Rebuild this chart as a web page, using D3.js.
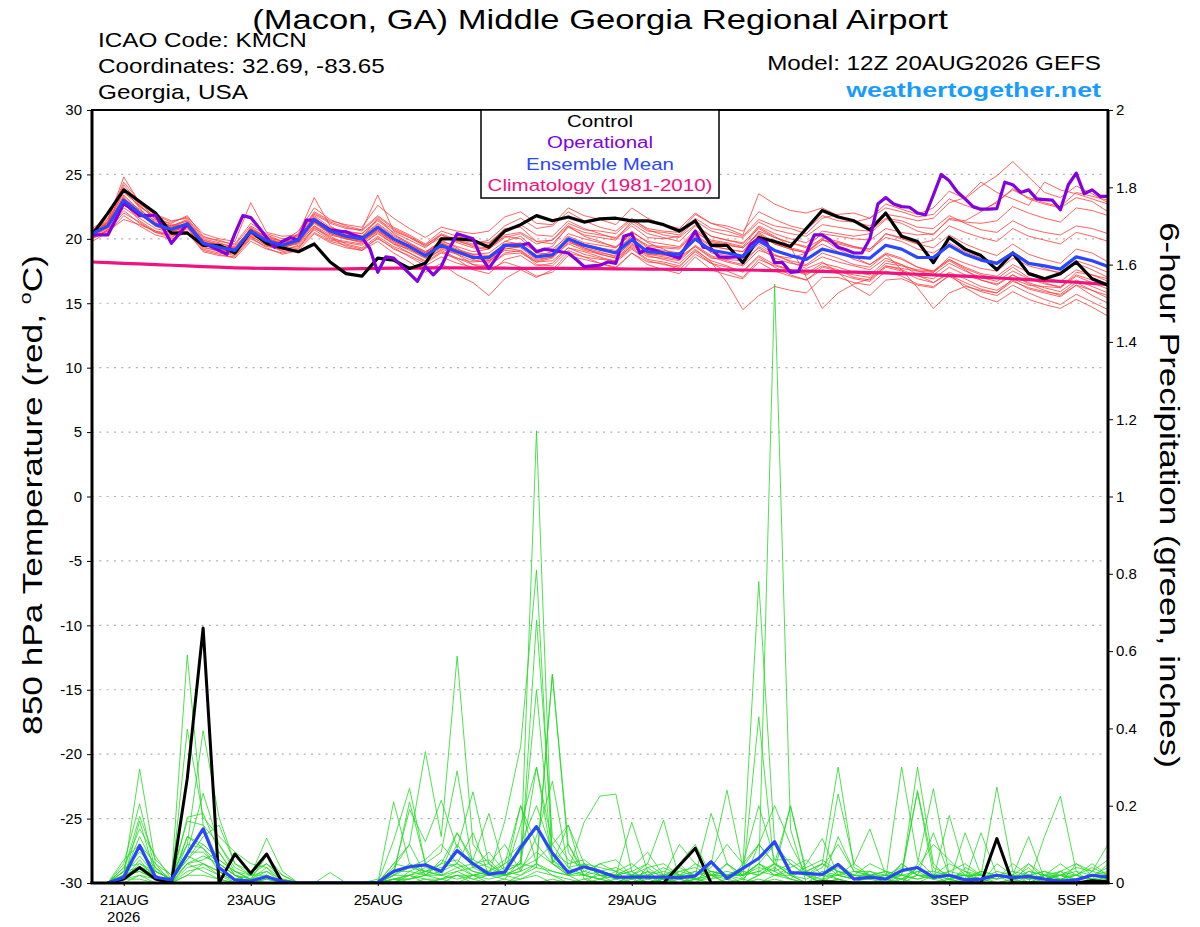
<!DOCTYPE html>
<html><head><meta charset="utf-8">
<script src="https://cdn.jsdelivr.net/npm/d3@7"></script>
<style>
body{margin:0;background:#fff}
svg{display:block}
text{font-family:"Liberation Sans",Arial,Helvetica,sans-serif}
</style>
</head><body>
<svg id="c" width="1200" height="927"></svg>
<script>
// ---------------- DATA ----------------
const runStartUTC = [2026, 7, 20, 12];      // 12Z 20AUG2026
const forecastHours = 384;                  // 16 days

// 6-hourly 850 hPa temperature (°C), index 0 = 20AUG 12Z
const controlTemp = [20.3,22.0,23.8,22.9,22.0,20.45,20.45,19.5,19.5,18.9,20.6,19.65,19.3,19.0,19.6,18.2,17.3,17.1,18.5,18.35,17.7,18.1,20.0,20.0,19.9,19.35,20.6,21.1,21.8,21.4,21.7,21.3,21.55,21.6,21.4,21.4,21.1,20.6,21.4,19.5,19.5,18.15,20.1,19.8,19.4,20.8,22.2,21.7,21.4,20.7,22.0,20.2,19.8,18.15,20.1,19.2,18.7,17.6,18.9,17.3,16.9,17.3,18.2,16.9,16.4];

const meanTemp = [20.4,21.0,23.0,22.0,21.1,20.75,21.15,19.65,19.35,19.1,20.6,19.85,19.5,19.9,21.5,20.6,20.2,20.0,20.9,20.0,19.4,18.7,19.5,19.0,18.55,18.55,19.5,19.5,18.6,18.75,20.0,19.5,19.2,18.9,19.95,19.0,18.9,18.8,20.0,19.1,18.9,18.65,19.85,19.1,18.7,18.4,19.2,18.9,18.6,18.5,19.5,19.2,18.55,18.55,19.5,18.8,18.35,18.1,18.9,18.1,17.9,17.65,18.6,18.3,17.85];

const climoTemp = [18.2,18.15,18.1,18.05,18.0,17.95,17.9,17.85,17.8,17.75,17.72,17.7,17.68,17.67,17.66,17.66,17.67,17.68,17.7,17.72,17.73,17.74,17.74,17.74,17.73,17.72,17.72,17.71,17.7,17.7,17.7,17.69,17.68,17.67,17.66,17.65,17.64,17.63,17.62,17.61,17.6,17.58,17.56,17.54,17.52,17.5,17.47,17.44,17.41,17.38,17.35,17.3,17.25,17.2,17.15,17.1,17.03,16.96,16.9,16.83,16.76,16.7,16.63,16.55,16.47];

// 3-hourly operational run, index 0 = 20AUG 12Z
const operationalTemp = [20.3,20.3,20.3,21.5,22.75,22.3,21.8,21.8,21.85,20.8,
19.65,20.4,21.15,20.4,19.65,19.4,19.1,18.8,20.4,21.8,
21.65,20.9,20.1,19.35,19.8,20.1,19.9,21.45,21.45,21.1,
20.7,20.6,20.55,20.3,20.1,19.25,17.4,18.6,18.5,17.9,
17.3,16.7,17.85,17.2,17.85,19.2,20.4,20.2,20.0,18.6,
17.7,18.6,19.5,19.5,19.5,19.65,19.0,19.2,19.1,19.0,
18.9,18.4,17.85,17.9,17.95,18.2,18.1,20.2,20.4,18.9,
19.25,19.1,18.9,18.7,18.5,19.6,20.6,19.35,19.25,18.6,
18.55,18.6,18.6,19.6,20.0,19.7,18.15,18.15,17.4,17.45,
18.9,20.3,20.3,19.9,19.35,19.15,18.9,18.9,20.0,22.7,
23.2,22.7,22.5,22.45,22.0,21.85,23.4,25.0,24.5,23.65,
23.1,22.5,22.3,22.3,22.35,24.4,24.2,23.6,23.8,23.1,
23.05,23.0,22.25,24.2,25.1,23.5,23.8,23.3,23.3];

const memberTemp01 = [20.6,21.4,24.8,22.8,21.6,20.9,21.4,19.8,19.2,19.0,20.9,20.1,19.6,20.4,23.2,21.0,20.3,20.1,21.6,20.4,19.6,18.9,19.9,19.3,18.4,18.1,19.8,20.2,19.1,19.4,21.0,20.2,19.8,19.3,20.6,19.7,19.2,18.6,19.4,18.6,18.2,17.9,19.1,18.7,18.5,18.9,20.1,19.8,19.4,19.0,20.4,20.1,19.6,19.3,20.3,19.6,19.1,18.7,19.6,18.8,18.4,18.1,19.2,18.9,18.2];
const memberTemp02 = [20.2,20.8,22.4,21.6,20.8,20.5,21.0,19.4,19.0,18.8,20.2,19.5,19.1,19.5,20.8,20.2,19.6,19.3,20.2,19.4,18.9,18.2,19.0,18.4,17.6,17.3,18.4,18.7,17.9,18.1,19.3,19.0,18.6,18.2,19.2,18.3,18.0,17.8,19.1,18.3,17.9,17.4,18.6,17.8,17.2,16.8,17.6,17.3,16.9,16.7,17.8,17.5,16.9,16.6,17.4,16.9,16.3,16.0,16.8,16.1,15.8,15.5,16.4,16.0,15.4];
const memberTemp03 = [20.5,21.2,23.6,22.6,21.5,21.2,21.8,20.2,19.8,19.6,21.2,20.4,20.0,20.2,21.9,21.2,20.8,20.7,21.8,20.9,20.3,19.6,20.6,20.2,19.8,19.7,20.7,21.1,20.3,20.2,21.4,20.8,20.4,20.0,21.0,20.1,20.0,20.2,21.4,20.6,20.3,20.1,21.3,20.7,20.4,20.2,21.1,20.9,20.7,20.6,21.6,21.4,20.9,20.8,21.8,21.2,20.7,20.5,21.4,20.8,20.5,20.3,21.0,20.8,20.4];
const memberTemp04 = [20.0,20.6,22.8,21.4,20.6,20.2,20.6,19.1,18.8,18.5,19.8,19.2,18.9,19.2,20.9,20.0,19.8,19.6,20.4,19.6,18.9,18.3,19.2,18.8,18.0,17.6,18.2,17.8,17.1,17.4,18.7,18.4,18.1,17.8,18.9,18.2,18.1,17.6,18.8,18.1,17.5,17.0,18.4,17.9,17.6,17.2,17.9,17.6,17.0,16.8,17.9,17.6,17.1,16.9,17.8,17.2,16.8,16.5,17.2,16.6,16.2,15.9,16.8,16.3,15.8];
const memberTemp05 = [20.8,21.6,24.2,22.7,21.9,21.4,21.6,20.1,19.9,19.5,21.0,20.3,19.8,20.6,22.4,21.5,21.0,20.7,23.4,20.6,20.1,19.4,20.1,19.8,19.5,19.6,20.8,20.9,19.8,19.6,20.9,20.3,20.1,19.9,21.4,20.6,20.5,20.3,21.6,20.8,20.6,20.2,21.5,21.0,20.8,20.4,21.6,21.9,22.0,21.6,22.4,22.1,21.7,21.9,23.1,22.6,22.2,22.8,23.9,23.1,22.7,22.4,23.2,22.9,22.1];
const memberTemp06 = [20.3,21.1,23.3,22.1,21.2,20.7,21.3,19.7,19.5,19.3,20.5,19.7,19.4,19.8,21.3,20.5,20.3,20.2,21.1,20.2,19.6,19.0,19.8,19.4,19.0,19.2,20.1,20.4,19.6,19.9,21.2,20.7,20.6,20.4,21.5,20.8,20.6,20.5,21.9,21.2,21.0,20.6,22.1,21.5,21.0,20.7,21.8,21.4,21.3,21.6,22.7,22.3,21.9,22.4,23.7,23.1,24.1,24.9,26.0,24.8,23.6,23.2,24.1,23.5,22.8];
const memberTemp07 = [20.1,20.7,22.0,21.3,20.5,20.1,20.8,19.5,19.3,19.2,20.6,19.9,19.4,19.6,21.0,20.1,19.4,19.1,19.8,18.9,18.2,17.4,18.1,17.2,16.6,15.6,16.9,17.6,17.0,17.6,18.9,18.6,18.4,18.3,19.5,18.8,18.6,18.4,19.5,18.7,18.3,18.0,19.4,18.7,18.3,18.0,18.9,18.5,18.0,17.8,18.8,18.4,17.8,17.5,18.4,17.7,17.2,16.9,17.8,17.0,16.6,16.2,17.1,16.6,16.1];
const memberTemp08 = [20.7,21.3,23.9,22.4,21.0,20.8,21.1,19.9,19.6,19.4,20.7,20.0,19.7,20.0,21.8,20.9,20.5,20.4,21.4,20.5,19.9,19.3,20.3,19.9,19.4,19.3,20.2,20.0,18.9,18.8,19.9,19.3,18.8,18.5,19.6,18.7,18.4,18.1,19.2,18.2,16.6,14.5,15.6,16.3,16.0,15.8,17.0,17.0,16.6,16.4,17.5,17.1,16.5,16.3,17.1,16.4,15.9,15.6,16.4,15.8,15.3,14.9,15.7,15.1,14.5];
const memberTemp09 = [20.4,21.1,23.1,22.3,21.3,20.6,20.9,19.6,19.4,19.0,20.3,19.7,19.3,19.7,21.2,20.4,20.1,19.9,20.7,19.9,19.4,18.8,19.7,19.1,18.8,18.9,19.8,19.6,18.7,18.6,19.8,19.2,18.9,18.7,19.7,18.8,18.8,18.9,20.3,19.5,19.2,19.0,20.6,20.1,19.7,19.3,20.0,19.2,18.6,18.0,18.9,18.5,17.8,17.4,18.3,17.6,16.8,16.4,17.2,16.5,16.0,15.6,16.4,15.6,15.0];
const memberTemp10 = [19.8,20.5,21.8,21.0,20.3,20.0,20.5,19.0,18.7,18.6,20.0,19.4,19.2,19.4,20.7,19.9,19.7,19.5,20.5,19.6,19.2,18.5,19.3,18.9,18.5,18.4,19.4,19.3,18.4,18.6,19.9,19.3,19.0,18.6,19.8,18.9,18.7,18.6,19.9,18.9,18.7,18.5,19.6,18.8,18.2,17.7,18.2,17.4,16.3,15.6,16.8,16.9,16.4,16.2,17.2,16.6,16.1,15.8,16.7,16.2,15.9,15.7,16.6,16.0,15.6];
const memberTemp11 = [20.6,21.5,24.4,22.9,21.8,21.3,21.7,20.4,20.0,19.8,22.8,20.5,20.2,20.3,22.0,21.3,20.9,20.6,21.7,20.8,20.2,19.5,20.4,19.9,19.6,19.9,21.0,21.6,20.8,21.0,22.1,21.4,20.9,20.6,21.6,20.7,20.3,20.1,21.1,20.2,19.9,19.7,20.8,20.1,19.7,19.4,20.4,20.2,20.0,19.9,20.8,20.5,20.3,20.4,21.5,21.3,21.2,21.4,22.5,22.0,21.6,21.3,22.4,22.2,21.8];
const memberTemp12 = [20.2,20.9,22.6,21.9,21.0,20.4,20.6,19.3,19.1,18.9,20.4,19.6,19.0,19.3,20.5,19.8,19.5,19.2,20.0,19.3,18.6,17.9,18.6,18.1,17.8,17.9,18.9,19.1,18.3,18.6,19.6,19.1,18.8,18.5,19.4,18.6,18.5,18.3,19.4,18.5,18.4,18.3,19.3,18.5,18.1,17.9,18.6,18.2,17.9,17.6,18.5,18.0,17.2,16.6,17.3,16.2,15.5,15.1,15.9,15.3,14.9,14.6,15.3,14.7,14.0];
const memberTemp13 = [20.5,21.0,23.4,22.2,21.4,21.0,21.5,20.0,19.7,19.3,20.8,20.0,19.6,20.1,21.7,20.7,20.4,20.2,21.2,20.3,19.7,19.0,19.6,19.0,18.5,18.3,19.2,19.4,18.7,19.0,20.4,20.0,19.7,19.4,20.3,19.4,19.3,19.2,20.6,19.7,19.5,19.3,20.4,19.6,19.2,18.9,19.6,19.0,18.4,18.0,18.8,17.6,16.2,14.6,15.8,16.3,16.0,15.8,16.9,16.4,16.3,16.2,17.4,17.2,16.9];
const memberTemp14 = [20.3,20.9,22.9,21.8,21.2,20.9,21.2,19.7,19.3,19.1,20.5,19.8,19.6,19.9,21.4,20.6,20.0,19.8,20.6,19.8,19.3,18.7,19.5,19.1,18.7,18.5,19.5,19.7,19.0,19.2,20.2,19.7,19.5,19.3,20.5,19.8,19.6,19.4,20.7,19.9,19.7,19.4,20.9,20.2,19.4,17.0,14.6,15.8,16.5,16.9,17.9,17.7,17.5,17.4,18.6,18.1,17.7,17.5,18.5,17.9,17.6,17.4,18.3,17.9,17.4];
const memberTemp15 = [20.7,21.2,23.7,22.5,21.7,21.1,21.0,19.5,19.3,19.2,20.7,20.2,19.8,20.0,21.6,20.8,20.6,20.4,21.5,20.7,20.1,19.5,20.3,19.7,19.3,19.2,20.3,20.5,19.8,19.9,21.0,20.5,20.3,20.1,21.2,20.4,20.1,19.8,21.0,20.2,19.9,19.6,21.0,20.4,20.0,19.7,20.6,20.4,20.2,20.4,21.5,21.2,20.6,20.3,21.6,21.4,22.1,22.9,23.8,23.2,22.8,22.5,23.6,23.3,23.0];
const memberTemp16 = [20.0,20.7,22.2,21.2,20.5,20.3,20.9,19.2,18.9,18.7,20.1,19.3,18.8,19.1,20.4,19.7,19.3,19.1,20.1,19.2,18.7,18.1,18.9,18.5,18.2,18.3,19.1,19.0,18.2,18.3,19.3,18.8,18.5,18.3,19.3,18.4,18.2,17.9,19.0,18.1,17.8,17.5,18.7,18.0,17.6,17.3,18.1,17.8,17.4,17.2,18.3,18.0,17.5,17.2,18.1,17.5,17.0,16.7,17.5,16.9,16.5,16.3,17.2,16.8,16.3];
const memberTemp17 = [20.4,21.3,24.0,22.6,21.5,21.0,21.4,19.9,19.5,19.2,20.8,20.1,19.8,20.3,22.1,21.4,21.1,20.9,22.6,21.6,20.8,20.1,20.9,20.6,20.4,20.6,21.7,22.1,21.2,21.1,22.4,21.8,21.5,21.1,22.4,21.6,21.1,20.8,22.0,21.2,20.8,20.3,23.5,22.7,22.2,22.0,22.4,21.8,21.3,21.0,21.9,21.7,21.4,21.6,22.8,23.2,24.4,23.6,23.1,22.6,24.4,23.8,23.5,23.1,22.7];
const memberTemp18 = [20.1,20.6,21.5,21.1,20.6,20.4,20.9,19.6,19.2,18.9,20.2,19.5,19.3,19.7,21.0,20.3,20.0,19.8,20.7,19.8,19.2,18.6,19.4,18.8,18.3,18.2,19.3,19.1,18.0,17.9,19.1,18.6,18.1,17.7,18.9,18.0,17.6,17.3,18.6,17.6,17.2,16.9,18.2,17.5,17.1,16.8,17.8,17.5,17.2,17.0,18.1,17.9,17.6,17.5,18.4,17.8,17.3,17.1,18.0,17.4,17.0,16.7,17.6,17.2,16.7];
const memberTemp19 = [20.5,21.2,23.2,21.9,21.1,20.6,21.0,19.8,19.5,19.2,20.6,19.9,19.5,19.8,21.3,20.4,20.0,19.7,20.6,19.7,19.1,18.5,19.1,18.5,18.0,17.9,18.8,18.9,18.2,18.5,19.7,19.4,19.2,19.0,20.2,19.5,19.4,19.3,20.5,19.8,19.6,19.3,20.5,19.7,19.3,19.0,19.9,19.7,19.4,19.2,20.1,19.8,19.2,18.9,19.7,19.0,18.5,18.2,19.0,18.2,17.7,17.3,18.1,17.6,17.0];
const memberTemp20 = [20.3,20.9,23.0,22.0,21.0,20.6,21.0,19.6,19.3,19.0,20.4,19.8,19.4,19.8,21.3,20.5,20.1,19.9,20.8,20.0,19.5,18.9,19.7,19.2,18.8,18.7,19.6,19.6,18.7,18.8,20.0,19.6,19.3,19.1,20.2,19.3,19.1,18.9,20.2,19.4,19.2,19.0,20.3,19.6,19.2,18.9,19.9,19.6,19.3,19.2,20.4,20.0,19.6,19.9,21.0,20.5,20.1,19.8,20.8,20.2,19.9,19.6,20.5,20.2,19.8];

// 6-hour precipitation (inches), index 0 = 20AUG 18Z
const controlPrecip = [0,0.01,0.04,0.01,0,0.27,0.66,0, 0.075,0.025,0.075,0,0,0,0,0, 0,0,0,0,0,0,0,0, 0,0,0,0,0,0,0,0, 0,0,0,0,0.045,0.09,0,0, 0,0,0,0,0,0.003,0.002,0, 0,0,0,0,0,0,0,0, 0.115,0,0,0,0,0,0.006,0.003];
const meanPrecip = [0,0.015,0.097,0.015,0.008,0.075,0.14,0.04, 0.008,0.005,0.016,0.004,0,0,0,0, 0,0.002,0.03,0.042,0.047,0.03,0.084,0.05, 0.023,0.028,0.092,0.146,0.077,0.027,0.042,0.03, 0.015,0.015,0.015,0.015,0.014,0.018,0.055,0.012, 0.038,0.064,0.107,0.027,0.025,0.022,0.048,0.01, 0.015,0.01,0.032,0.04,0.015,0.02,0.008,0.01, 0.02,0.014,0.017,0.01,0.005,0.008,0.02,0.015];

const memberPrecip01 = [0,0.02,0.295,0.05,0,0.12,0.09,0.03, 0,0.01,0.02,0,0,0,0,0, 0,0,0.05,0.1,0.34,0.12,0.587,0.1, 0.05,0.02,0.15,0.3,0.1,0.04,0.02,0.01, 0,0.02,0,0.01,0.05,0.1,0.02,0, 0,0.1,0.05,0.02,0,0,0.03,0.01, 0,0,0.02,0.3,0.05,0.01,0,0, 0,0.01,0,0.02,0,0,0,0.02];
const memberPrecip02 = [0,0.05,0.205,0.03,0.01,0.59,0.15,0.05, 0.02,0,0,0,0,0,0,0, 0,0,0.02,0.21,0.05,0.08,0.29,0.04, 0.02,0.05,0.2,0.05,0.54,0.08,0.02,0.05, 0.03,0,0.01,0,0.02,0,0.05,0.24, 0.04,0.78,0.1,0.02,0,0.03,0.01,0, 0,0,0.05,0.02,0.01,0,0.04,0.02, 0,0,0.05,0.01,0.03,0,0,0];
const memberPrecip03 = [0,0.03,0.172,0.06,0.02,0.1,0.394,0.17, 0.05,0.02,0.116,0.03,0,0,0,0, 0,0,0.11,0.245,0.05,0.03,0.13,0.06, 0.18,0.03,0.05,1.17,0.05,0.02,0,0.03, 0.02,0.157,0.03,0,0,0.01,0.03,0.02, 0,0.02,1.55,0.14,0,0.02,0.01,0, 0.02,0.01,0,0.05,0.244,0.02,0,0, 0.02,0,0.03,0.02,0,0.05,0.02,0.01];
const memberPrecip04 = [0,0.01,0.16,0.02,0,0.398,0.17,0.12, 0.08,0.05,0.04,0.01,0,0,0,0, 0,0,0.03,0.19,0.107,0.214,0.09,0.236, 0.05,0.1,0.03,0.12,0.263,0.04,0.05,0.02, 0,0.02,0.05,0.163,0.01,0,0.02,0.05, 0.01,0.43,0.03,0.2,0.02,0,0.12,0.03, 0.02,0,0,0.04,0.01,0.175,0.03,0, 0,0,0,0.02,0.01,0,0.03,0.06];
const memberPrecip05 = [0,0.04,0.14,0.07,0.01,0.08,0.232,0.1, 0.03,0.01,0.07,0.02,0,0,0.027,0, 0,0,0.21,0.05,0.02,0.05,0.06,0.03, 0.02,0.16,0.354,0.81,0.05,0.15,0.01,0.02, 0.02,0,0.04,0.01,0,0.02,0.18,0.05, 0.02,0.05,0.03,0.01,0.05,0.115,0.02,0.01, 0.01,0,0.03,0.235,0.02,0,0.13,0.02, 0.248,0.03,0,0.01,0.02,0,0,0.02];
const memberPrecip06 = [0,0.02,0.12,0.04,0,0.17,0.18,0.08, 0.02,0.01,0.03,0.01,0,0,0,0, 0,0,0.05,0.04,0.06,0.1,0.05,0.13, 0.02,0.01,0.06,0.5,0.05,0.03,0.157,0.225, 0.23,0.03,0,0.02,0,0.01,0.02,0, 0.05,0.1,0.05,0.198,0.03,0.05,0.3,0.04, 0.02,0.03,0,0.02,0.01,0.03,0.02,0, 0.05,0.02,0,0.12,0.225,0.03,0,0.01];
const memberPrecip07 = [0,0.06,0.10,0.05,0.02,0.16,0.15,0.1, 0.04,0.02,0.03,0,0,0,0,0, 0,0,0,0.03,0.05,0.02,0.1,0.04, 0.08,0.03,0.02,0.04,0.54,0.1,0.02,0.01, 0.02,0.01,0.03,0,0.05,0.01,0.01,0.02, 0.02,0.05,0.02,0.03,0.02,0,0.23,0.05, 0.14,0.02,0.01,0.03,0.01,0.02,0.01,0.13, 0.02,0.01,0.04,0,0.03,0.02,0.01,0.05];
const memberPrecip08 = [0,0.03,0.09,0.03,0.01,0.06,0.12,0.15, 0.05,0.03,0.05,0.02,0,0,0,0, 0,0,0.02,0.05,0.03,0.04,0.05,0.02, 0.03,0.06,0.1,0.2,0.08,0.05,0.06,0.03, 0.04,0.02,0,0.01,0.03,0.02,0.04,0.1, 0.05,0.2,0.06,0.06,0.03,0.05,0.02,0.01, 0.03,0.01,0.3,0.06,0.02,0.01,0.03,0.02, 0.01,0.02,0.05,0.02,0.01,0.02,0.04,0.02];
const memberPrecip09 = [0,0.02,0.07,0.02,0,0.1,0.09,0.05, 0.02,0,0.01,0,0,0,0,0, 0,0,0.04,0.1,0.02,0.06,0.04,0.05, 0.06,0.02,0.2,0.1,0.05,0.02,0.03,0.05, 0.06,0.02,0.04,0.05,0.02,0.03,0.01,0.05, 0.02,0.03,0.05,0.02,0.04,0.06,0.03,0.02, 0.05,0.03,0.02,0.24,0.04,0.02,0.01,0.03, 0.02,0.01,0.02,0.03,0.02,0.04,0.03,0.1];
const memberPrecip10 = [0,0.01,0.06,0.01,0,0.08,0.08,0.04, 0.01,0.02,0.02,0,0,0,0,0, 0,0,0.01,0.02,0.04,0.03,0.08,0.06, 0.04,0.02,0.03,0.68,0.12,0.06,0.04,0.03, 0.02,0.03,0.05,0.02,0.03,0.04,0.02,0.03, 0.02,0.05,0.1,0.05,0.02,0.01,0.02,0.03, 0.02,0.01,0.02,0.03,0.03,0.02,0.02,0.01, 0.03,0.02,0.12,0.01,0.02,0.03,0.02,0.04];
const memberPrecip11 = [0,0.04,0.05,0.03,0.01,0.06,0.1,0.06, 0.03,0.01,0,0,0,0,0,0, 0,0.01,0,0.01,0.02,0.02,0.03,0.01, 0.02,0.03,0.05,0.04,0.03,0.02,0.05,0.04, 0.03,0.05,0.02,0.04,0.02,0.05,0.03,0.02, 0.04,0.1,0.2,0.1,0.02,0.05,0.03,0.02, 0.01,0.02,0.04,0.02,0.02,0.05,0.03,0.01, 0.02,0.01,0.03,0.02,0.05,0.02,0.01,0.02];
const memberPrecip12 = [0,0.03,0.04,0.02,0,0.05,0.06,0.08, 0.02,0.01,0.04,0,0,0,0,0, 0,0,0.02,0.04,0.03,0.05,0.13,0.05, 0.03,0.02,0.04,0.06,0.1,0.15,0.05,0.02, 0.01,0.02,0.02,0.01,0.01,0.03,0.02,0.02, 0.03,0.02,0.05,0.03,0.02,0.04,0.1,0.03, 0.03,0.02,0.01,0.04,0.1,0.06,0.02,0.01, 0.02,0.03,0.02,0.01,0.02,0.01,0.02,0.03];
const memberPrecip13 = [0,0.02,0.03,0.01,0,0.04,0.05,0.03, 0.01,0,0,0,0,0,0,0, 0,0,0.03,0.03,0.02,0.03,0.05,0.03, 0.02,0.04,0.05,0.3,0.06,0.02,0.05,0.02, 0.02,0.01,0.03,0.02,0.04,0.02,0.03,0.02, 0.01,0.05,0.02,0.04,0.06,0.02,0.05,0.02, 0.02,0.03,0.02,0.01,0.02,0.03,0.05,0.02, 0.01,0.05,0.02,0.03,0.01,0.02,0.05,0.02];
const memberPrecip14 = [0,0.03,0.08,0.04,0.01,0.12,0.1,0.06, 0.03,0.02,0.05,0.01,0,0,0,0, 0,0,0.01,0.02,0.03,0.02,0.04,0.02, 0.03,0.05,0.08,0.15,0.06,0.03,0.02,0.03, 0.02,0.04,0.08,0.02,0.1,0.05,0.02,0.02, 0.02,0.04,0.03,0.05,0.02,0.02,0.04,0.02, 0.02,0.01,0.05,0.02,0.13,0.02,0.01,0.03, 0.02,0.02,0.01,0.02,0.03,0.05,0.03,0.02];
const memberPrecip15 = [0,0.01,0.05,0.02,0,0.07,0.05,0.02, 0.01,0,0.02,0,0,0,0,0, 0,0,0.01,0.01,0.02,0.01,0.02,0.02, 0.02,0.02,0.04,0.08,0.05,0.1,0.03,0.02, 0.02,0.03,0.01,0.02,0.02,0.01,0.02,0.01, 0.03,0.02,0.05,0.02,0.01,0.03,0.02,0.05, 0.02,0.02,0.01,0.02,0.02,0.02,0.02,0.02, 0.02,0.02,0.01,0.02,0.02,0.01,0.02,0.02];
const memberPrecip16 = [0,0.02,0.04,0.03,0.01,0.05,0.07,0.05, 0.02,0,0.01,0,0,0,0,0, 0,0,0.02,0.02,0.01,0.01,0.03,0.04, 0.05,0.02,0.03,0.05,0.03,0.02,0.02,0.01, 0.03,0.02,0.02,0.03,0.02,0.02,0.05,0.02, 0.02,0.03,0.02,0.02,0.03,0.02,0.02,0.01, 0.01,0.02,0.02,0.01,0.02,0.01,0.02,0.02, 0.01,0.02,0.01,0.01,0.02,0.02,0.01,0.01];
const memberPrecip17 = [0,0,0.02,0,0,0.03,0.04,0.02, 0,0,0,0,0,0,0,0, 0,0,0,0,0.01,0,0.02,0, 0,0,0.01,0.02,0,0,0,0, 0,0,0,0.01,0,0,0,0, 0,0.01,0,0,0,0,0,0, 0,0,0,0,0,0,0,0.01, 0,0,0,0,0,0,0,0];
const memberPrecip18 = [0,0.01,0.01,0,0,0.02,0.02,0.01, 0,0,0,0,0,0,0,0, 0,0,0.01,0,0,0.01,0,0.02, 0,0.01,0,0,0.01,0,0,0, 0,0,0,0,0,0.01,0,0, 0,0,0.01,0,0,0,0.01,0, 0,0,0,0,0,0.01,0,0, 0,0,0,0.01,0,0,0,0];
const memberPrecip19 = [0,0.02,0.03,0.01,0,0.05,0.03,0.01, 0,0,0.02,0,0,0,0,0, 0,0,0,0.02,0,0.01,0.02,0.01, 0,0,0.02,0.05,0.02,0,0.01,0, 0.01,0,0.02,0,0.01,0,0,0.01, 0,0.02,0.04,0.01,0,0.01,0,0, 0,0.01,0,0,0.02,0,0,0.01, 0,0,0,0,0.01,0,0,0];
const memberPrecip20 = [0,0.01,0.02,0.01,0,0.02,0.05,0.03, 0.01,0,0,0,0,0,0,0, 0,0,0.01,0.01,0.03,0.02,0.01,0.02, 0.01,0.02,0.01,0.03,0.02,0.01,0,0.01, 0,0.01,0,0,0.02,0.01,0,0, 0.01,0,0.02,0.01,0,0,0.01,0, 0,0,0.01,0,0,0.01,0,0, 0,0.01,0,0,0,0,0.01,0];

const memberTemps = [memberTemp01,memberTemp02,memberTemp03,memberTemp04,memberTemp05,memberTemp06,memberTemp07,memberTemp08,memberTemp09,memberTemp10,memberTemp11,memberTemp12,memberTemp13,memberTemp14,memberTemp15,memberTemp16,memberTemp17,memberTemp18,memberTemp19,memberTemp20];
const memberPrecips = [memberPrecip01,memberPrecip02,memberPrecip03,memberPrecip04,memberPrecip05,memberPrecip06,memberPrecip07,memberPrecip08,memberPrecip09,memberPrecip10,memberPrecip11,memberPrecip12,memberPrecip13,memberPrecip14,memberPrecip15,memberPrecip16,memberPrecip17,memberPrecip18,memberPrecip19,memberPrecip20];

const dateTicks = ["2026-08-21","2026-08-23","2026-08-25","2026-08-27","2026-08-29","2026-09-01","2026-09-03","2026-09-05"];
const dateTickLabels = ["21AUG","23AUG","25AUG","27AUG","29AUG","1SEP","3SEP","5SEP"];
const tempTicks = [30,25,20,15,10,5,0,-5,-10,-15,-20,-25,-30];
const precipTicks = [0,0.2,0.4,0.6,0.8,1,1.2,1.4,1.6,1.8,2];
const legendItems = ["Control","Operational","Ensemble Mean","Climatology (1981-2010)"];

// ---------------- CHART ----------------
const svg = d3.select("#c");
const P = {left:92, right:1108, top:110, bottom:883};
const t0 = Date.UTC(...runStartUTC);
const HOUR = 3600e3;
const x = d3.scaleUtc().domain([new Date(t0), new Date(t0 + forecastHours*HOUR)]).range([P.left, P.right]);
const yT = d3.scaleLinear().domain([-30, 30]).range([P.bottom, P.top]);
const yP = d3.scaleLinear().domain([0, 2]).range([P.bottom, P.top]);

svg.append("defs").append("clipPath").attr("id","clip")
  .append("rect").attr("x",P.left).attr("y",P.top).attr("width",P.right-P.left).attr("height",P.bottom-P.top);

// gridlines
svg.append("g").selectAll("line").data(tempTicks.filter(d=>d>-30 && d<30)).join("line")
  .attr("x1",P.left).attr("x2",P.right).attr("y1",d=>yT(d)).attr("y2",d=>yT(d))
  .attr("stroke","#b0b0b0").attr("stroke-width",1.2).attr("stroke-dasharray","2,5.3");

const plot = svg.append("g").attr("clip-path","url(#clip)");
const t6 = i => new Date(t0 + i*6*HOUR);
const t3 = i => new Date(t0 + i*3*HOUR);
const tP = i => new Date(t0 + (i+1)*6*HOUR);

const lineT6 = d3.line().x((d,i)=>x(t6(i))).y(d=>yT(d));
const lineT3 = d3.line().x((d,i)=>x(t3(i))).y(d=>yT(d));
const lineP = d3.line().x((d,i)=>x(tP(i))).y(d=>yP(d));

plot.append("g").selectAll("path").data(memberPrecips).join("path")
  .attr("d",lineP).attr("fill","none").attr("stroke","#22d822").attr("stroke-width",0.8);
plot.append("g").selectAll("path").data(memberTemps).join("path")
  .attr("d",lineT6).attr("fill","none").attr("stroke","#ff3c3c").attr("stroke-width",0.8);

const COL = {control:"#000000", oper:"#8400dc", mean:"#2a46ff", climo:"#f0127e"};
const thick = (data, gen, col, w) => plot.append("path").datum(data).attr("d",gen)
  .attr("fill","none").attr("stroke",col).attr("stroke-width",w).attr("stroke-linejoin","round");

thick(controlPrecip, lineP, COL.control, 3);
thick(meanPrecip, lineP, COL.mean, 3.2);
thick(climoTemp, lineT6, COL.climo, 3.2);
thick(controlTemp, lineT6, COL.control, 3.2);
thick(operationalTemp, lineT3, COL.oper, 3.2);
thick(meanTemp, lineT6, COL.mean, 3.2);

// axes
const fmtP = d => String(+d.toFixed(1));
const axL = svg.append("g").attr("transform",`translate(${P.left},0)`)
  .call(d3.axisLeft(yT).tickValues(tempTicks).tickSize(5).tickPadding(5).tickFormat(d=>String(d)));
const axR = svg.append("g").attr("transform",`translate(${P.right},0)`)
  .call(d3.axisRight(yP).tickValues(precipTicks).tickSize(5).tickPadding(3).tickFormat(fmtP));
const axB = svg.append("g").attr("transform",`translate(0,${P.bottom})`)
  .call(d3.axisBottom(x).tickValues(dateTicks.map(s=>new Date(s+"T00:00:00Z"))).tickSize(3).tickPadding(8)
  .tickFormat((d,i)=>dateTickLabels[i]));
[axL,axR,axB].forEach(a=>{
  a.select(".domain").remove();
  a.selectAll("text").attr("font-family",'"Liberation Sans",Arial,sans-serif').attr("font-size",15).attr("fill","#000");
  a.selectAll("line").attr("stroke","#000").attr("stroke-width",1);
});
axB.selectAll("text").attr("dy","0.71em");
svg.append("text").attr("x",x(new Date("2026-08-21T00:00:00Z"))).attr("y",922)
  .attr("text-anchor","middle").attr("font-size",15).text("2026");

// frame
const fr = svg.append("g").attr("stroke","#000").attr("fill","none");
fr.append("line").attr("x1",P.left-1).attr("x2",P.right+1).attr("y1",P.top).attr("y2",P.top).attr("stroke-width",2);
fr.append("line").attr("x1",P.left-1.5).attr("x2",P.right+1.5).attr("y1",P.bottom).attr("y2",P.bottom).attr("stroke-width",3);
fr.append("line").attr("x1",P.left).attr("x2",P.left).attr("y1",P.top).attr("y2",P.bottom).attr("stroke-width",3);
fr.append("line").attr("x1",P.right).attr("x2",P.right).attr("y1",P.top).attr("y2",P.bottom).attr("stroke-width",3);

// stretched text helper (reference font is wider than Liberation Sans)
function label(parent, x0, y0, str, size, width, anchor, opts={}) {
  const g = parent.append("g").attr("transform",`translate(${x0},${y0}) rotate(${opts.rot||0})`);
  const t = g.append("text").attr("font-size",size).attr("text-anchor",anchor)
    .attr("fill",opts.fill||"#000").attr("font-weight",opts.bold?"bold":"normal");
  if (opts.build) opts.build(t); else t.text(str);
  const w = t.node().getComputedTextLength();
  if (width && w>0) t.attr("transform",`scale(${width/w},1)`);
  return t;
}

// legend
svg.append("rect").attr("x",481).attr("y",P.top).attr("width",238).attr("height",88)
  .attr("fill","#fff").attr("stroke","#000").attr("stroke-width",1.5);
const legCols = [COL.control, COL.oper, COL.mean, COL.climo];
const legW = [66,106,148,225];
legendItems.forEach((s,i)=>label(svg, 600, 127+i*21.3, s, 17, legW[i], "middle", {fill:legCols[i]}));

// titles
label(svg, 600, 29, "(Macon, GA) Middle Georgia Regional Airport", 27, 696, "middle");
label(svg, 98, 47, "ICAO Code: KMCN", 20, 209, "start");
label(svg, 98, 73, "Coordinates: 32.69, -83.65", 20, 287, "start");
label(svg, 98, 99, "Georgia, USA", 20, 150, "start");
label(svg, 1101, 70, "Model: 12Z 20AUG2026 GEFS", 20, 334, "end");
label(svg, 1101, 97, "weathertogether.net", 21, 255, "end", {bold:true, fill:"#1a9cff"});

label(svg, 42, 495, null, 28, 480, "middle", {rot:-90, build:t=>{
  t.append("tspan").text("850 hPa Temperature (red, ");
  t.append("tspan").attr("font-size",17).attr("dy",-11).text("o");
  t.append("tspan").attr("dy",11).text("C)");
}});
label(svg, 1160, 495, "6-hour Precipitation (green, inches)", 28, 546, "middle", {rot:90});
</script>
</body></html>
